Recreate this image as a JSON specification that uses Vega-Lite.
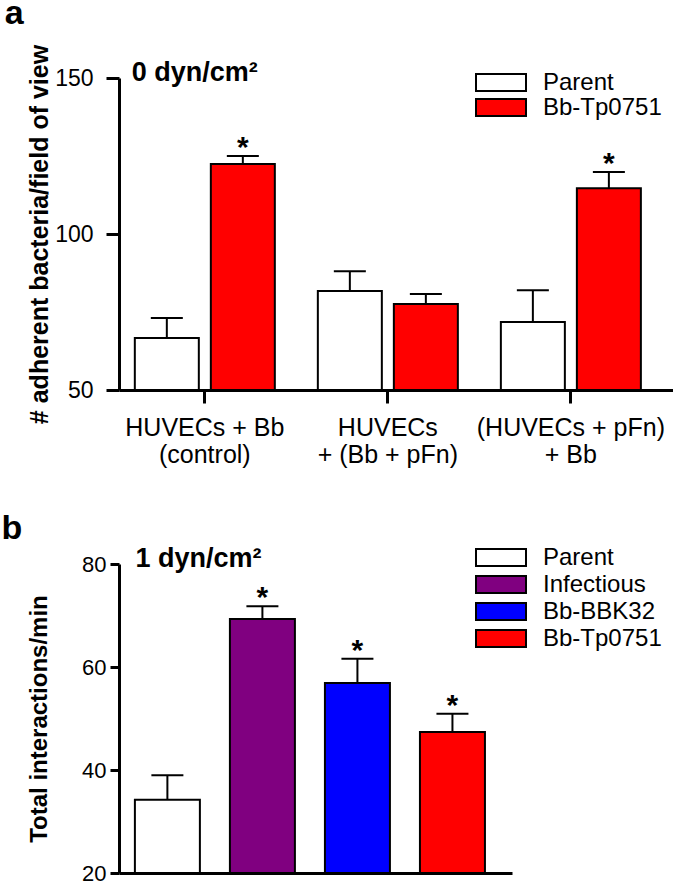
{
  "$schema": "https://vega.github.io/schema/vega-lite/v6.json",
  "background": "white",
  "padding": {"left": 1, "top": -3, "right": 0, "bottom": 0},
  "spacing": 45,
  "resolve": {"scale": {"fill": "independent", "x": "independent", "y": "independent"}, "legend": {"fill": "independent"}},
  "config": {
    "font": "Liberation Sans",
    "view": {"stroke": null},
    "axis": {"domainColor": "black", "domainWidth": 3, "tickColor": "black", "tickWidth": 3, "labelColor": "black", "titleColor": "black", "labelFont": "Liberation Sans", "titleFont": "Liberation Sans", "grid": false},
    "title": {"font": "Liberation Sans", "fontSize": 34, "fontWeight": "bold", "color": "black", "anchor": "start"}
  },
  "vconcat": [
    {
      "title": {"text": "a", "offset": 13, "dx": -23},
      "width": 554,
      "height": 312,
      "data": {"values": [
        {"group": "HUVECs + Bb|(control)", "strain": "Parent", "mean": 66.7, "upper": 73.1, "sig": ""},
        {"group": "HUVECs + Bb|(control)", "strain": "Bb-Tp0751", "mean": 122.4, "upper": 125.0, "sig": "*"},
        {"group": "HUVECs|+ (Bb + pFn)", "strain": "Parent", "mean": 81.7, "upper": 88.1, "sig": ""},
        {"group": "HUVECs|+ (Bb + pFn)", "strain": "Bb-Tp0751", "mean": 77.6, "upper": 80.8, "sig": ""},
        {"group": "(HUVECs + pFn)|+ Bb", "strain": "Parent", "mean": 71.8, "upper": 82.0, "sig": ""},
        {"group": "(HUVECs + pFn)|+ Bb", "strain": "Bb-Tp0751", "mean": 114.7, "upper": 119.9, "sig": "*"}
      ]},
      "encoding": {
        "x": {"field": "group", "type": "nominal", "sort": null,
              "scale": {"paddingInner": 0.235, "paddingOuter": 0.131, "align": 0.33},
              "axis": {"title": null, "labelAngle": 0, "labelFontSize": 25, "labelLimit": 400, "labelExpr": "split(datum.value, '|')", "tickSize": 13, "labelPadding": 12, "labelLineHeight": 27}},
        "xOffset": {"field": "strain", "type": "nominal", "sort": null, "scale": {"paddingInner": 0.158, "paddingOuter": 0}}
      },
      "layer": [
        {
          "mark": {"type": "bar", "stroke": "black", "strokeWidth": 2},
          "encoding": {
            "y": {"field": "mean", "type": "quantitative", "title": "# adherent bacteria/field of view",
                  "scale": {"domain": [50, 150], "nice": false, "zero": false},
                  "axis": {"values": [50, 100, 150], "labelFontSize": 23, "tickSize": 13, "labelPadding": 13, "titleFontSize": 25, "titleFontWeight": "bold", "titlePadding": 2}},
            "y2": {"datum": 50},
            "fill": {"field": "strain", "type": "nominal",
                     "scale": {"domain": ["Parent", "Bb-Tp0751"], "range": ["#ffffff", "#ff0000"]},
                     "legend": {"title": null, "orient": "none", "legendX": 356, "legendY": -8, "labelFontSize": 24, "labelFont": "Liberation Sans", "labelColor": "black", "labelLimit": 300, "symbolType": "M-1,-0.34H1V0.34H-1Z", "symbolSize": 2500, "symbolStrokeColor": "black", "symbolStrokeWidth": 2, "symbolOpacity": 1, "clipHeight": 25, "rowPadding": 0, "labelOffset": 16}}
          }
        },
        {
          "mark": {"type": "rule", "strokeWidth": 2, "color": "black"},
          "encoding": {
            "y": {"field": "mean", "type": "quantitative", "title": "# adherent bacteria/field of view"},
            "y2": {"field": "upper"}
          }
        },
        {
          "mark": {"type": "tick", "thickness": 2, "size": 32, "color": "black", "orient": "horizontal", "opacity": 1},
          "encoding": {
            "y": {"field": "upper", "type": "quantitative", "title": "# adherent bacteria/field of view"}
          }
        },
        {
          "mark": {"type": "text", "fontSize": 30, "fontWeight": "bold", "color": "black", "baseline": "alphabetic", "dy": 1},
          "encoding": {
            "y": {"field": "upper", "type": "quantitative", "title": "# adherent bacteria/field of view"},
            "text": {"field": "sig"}
          }
        },
        {
          "data": {"values": [{"group": "HUVECs + Bb|(control)", "t": "0 dyn/cm²"}]},
          "mark": {"type": "text", "fontSize": 27, "fontWeight": "bold", "color": "black", "align": "left", "baseline": "alphabetic", "dx": -73, "dy": 3},
          "encoding": {
            "xOffset": null,
            "y": {"datum": 150, "type": "quantitative"},
            "text": {"field": "t"}
          }
        }
      ]
    },
    {
      "title": {"text": "b", "offset": -2, "dx": -26},
      "width": 393,
      "height": 309,
      "data": {"values": [
        {"strain": "Parent", "mean": 34.2, "upper": 39.0, "sig": ""},
        {"strain": "Infectious", "mean": 69.3, "upper": 71.8, "sig": "*"},
        {"strain": "Bb-BBK32", "mean": 56.9, "upper": 61.6, "sig": "*"},
        {"strain": "Bb-Tp0751", "mean": 47.4, "upper": 50.9, "sig": "*"}
      ]},
      "encoding": {
        "x": {"field": "strain", "type": "nominal", "sort": null,
              "scale": {"paddingInner": 0.316, "paddingOuter": 0.226, "align": 0.37},
              "axis": {"title": null, "labels": false, "ticks": false}}
      },
      "layer": [
        {
          "mark": {"type": "bar", "stroke": "black", "strokeWidth": 2},
          "encoding": {
            "y": {"field": "mean", "type": "quantitative", "title": "Total interactions/min",
                  "scale": {"domain": [20, 80], "nice": false, "zero": false},
                  "axis": {"values": [20, 40, 60, 80], "labelFontSize": 22, "tickSize": 9, "labelPadding": 4, "titleFontSize": 24, "titleFontWeight": "bold", "titlePadding": 30}},
            "y2": {"datum": 20},
            "fill": {"field": "strain", "type": "nominal",
                     "scale": {"domain": ["Parent", "Infectious", "Bb-BBK32", "Bb-Tp0751"], "range": ["#ffffff", "#800080", "#0000ff", "#ff0000"]},
                     "legend": {"title": null, "orient": "none", "legendX": 356, "legendY": -20, "labelFontSize": 24, "labelFont": "Liberation Sans", "labelColor": "black", "labelLimit": 300, "symbolType": "M-1,-0.34H1V0.34H-1Z", "symbolSize": 2500, "symbolStrokeColor": "black", "symbolStrokeWidth": 2, "symbolOpacity": 1, "clipHeight": 27, "rowPadding": 0, "labelOffset": 16}}
          }
        },
        {
          "mark": {"type": "rule", "strokeWidth": 2, "color": "black"},
          "encoding": {
            "y": {"field": "mean", "type": "quantitative", "title": "Total interactions/min"},
            "y2": {"field": "upper"}
          }
        },
        {
          "mark": {"type": "tick", "thickness": 2, "size": 32, "color": "black", "orient": "horizontal", "opacity": 1},
          "encoding": {
            "y": {"field": "upper", "type": "quantitative", "title": "Total interactions/min"}
          }
        },
        {
          "mark": {"type": "text", "fontSize": 30, "fontWeight": "bold", "color": "black", "baseline": "alphabetic", "dy": 1},
          "encoding": {
            "y": {"field": "upper", "type": "quantitative", "title": "Total interactions/min"},
            "text": {"field": "sig"}
          }
        },
        {
          "data": {"values": [{"strain": "Parent", "t": "1 dyn/cm²"}]},
          "mark": {"type": "text", "fontSize": 27, "fontWeight": "bold", "color": "black", "align": "left", "baseline": "alphabetic", "dx": -32, "dy": 3},
          "encoding": {
            "y": {"datum": 80, "type": "quantitative"},
            "text": {"field": "t"}
          }
        }
      ]
    }
  ]
}
